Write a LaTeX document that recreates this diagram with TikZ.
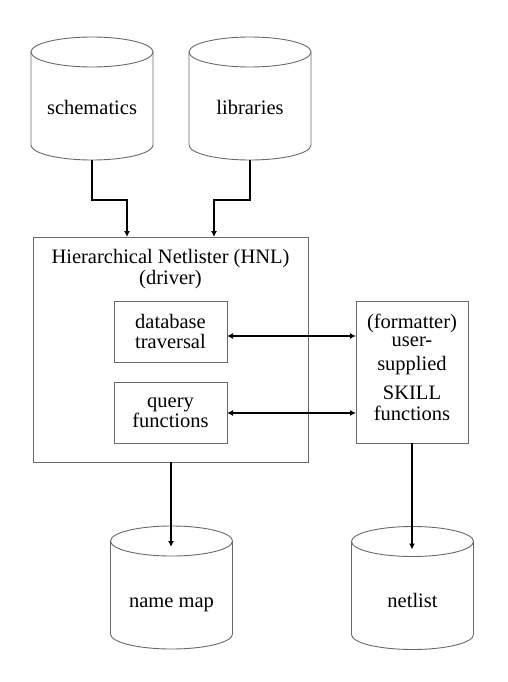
\documentclass[tikz,border=0pt]{standalone}
\usepackage{fontspec}
\setmainfont{Liberation Serif}
\usetikzlibrary{arrows.meta,calc}
\definecolor{edge}{RGB}{105,105,105}
\begin{document}
\begin{tikzpicture}[x=1pt,y=-1pt,
  every node/.style={font=\fontsize{20.5}{20.5}\selectfont, inner sep=0pt, outer sep=0pt},
  box/.style={draw=edge, line width=0.9pt, rectangle, align=center},
  drum/.style={rectangle, minimum width=122pt, minimum height=123pt},
  cylline/.style={draw=edge, line width=0.9pt},
  arr/.style={line width=2pt, -{Latex[length=6pt,width=6pt]}},
  darr/.style={line width=2pt, {Latex[length=6pt,width=6pt]}-{Latex[length=6pt,width=6pt]}}
]
\useasboundingbox (0,0) rectangle (507,682);
\newcommand\drawdrum[1]{%
  \draw[cylline] ($(#1.north)+(0,15)$) ellipse [x radius=61, y radius=15];
  \draw[cylline] ($(#1.north west)+(0,15)$) -- ($(#1.south west)+(0,-15)$)
     arc[start angle=180, end angle=0, x radius=61, y radius=15]
     -- ($(#1.north east)+(0,15)$);
}
% cylinders
\node[drum] (sch) at (92,98.5) {};
\node[drum] (lib) at (250,98.5) {};
\node[drum] (nm) at (171.5,587.5) {};
\node[drum] (nl) at (412.5,588) {};
\drawdrum{sch}\drawdrum{lib}\drawdrum{nm}\drawdrum{nl}
\node[anchor=base] (schT) at (92,114) {schematics};
\node[anchor=base] (libT) at (250,114) {libraries};
\node[anchor=base] (nmT) at (171.5,607) {name map};
\node[anchor=base] (nlT) at (412.5,607) {netlist};
% boxes
\node[box, minimum width=275pt, minimum height=225pt] (hnl) at (170.5,349.5) {};
\node[align=center] (title) at (170.5,269) {Hierarchical Netlister (HNL)\\(driver)};
\node[box, minimum width=113pt, minimum height=61pt] (db) at (170.5,331.5) {database\\traversal};
\node[box, minimum width=113pt, minimum height=61pt] (qf) at (170.5,412.5) {query\\functions};
\node[box, minimum width=112pt, minimum height=142pt] (fmt) at (412,372) {};
\node[align=center] (fmtT) at (412,367) {(formatter)\\[-2pt]user-\\[3pt]supplied\\[9pt]SKILL\\functions};
% connectors
\draw[arr] (sch.south) -- ++(0,40) -| ($(hnl.north)+(-43.5,0)$);
\draw[arr] (lib.south) -- ++(0,40) -| ($(hnl.north)+(43.5,0)$);
\draw[darr] ($(db.east)+(0,4.5)$) -- ($(fmt.west |- db.east)+(0,4.5)$);
\draw[darr] ($(qf.east)+(0,0.5)$) -- ($(fmt.west |- qf.east)+(0,0.5)$);
\draw[arr] ($(hnl.south)+(0.5,0)$) -- ($(hnl.south |- nm.north)+(0.5,21)$);
\draw[arr] (fmt.south) -- ($(fmt.south |- nl.north)+(0,23)$);
\end{tikzpicture}
\end{document}
